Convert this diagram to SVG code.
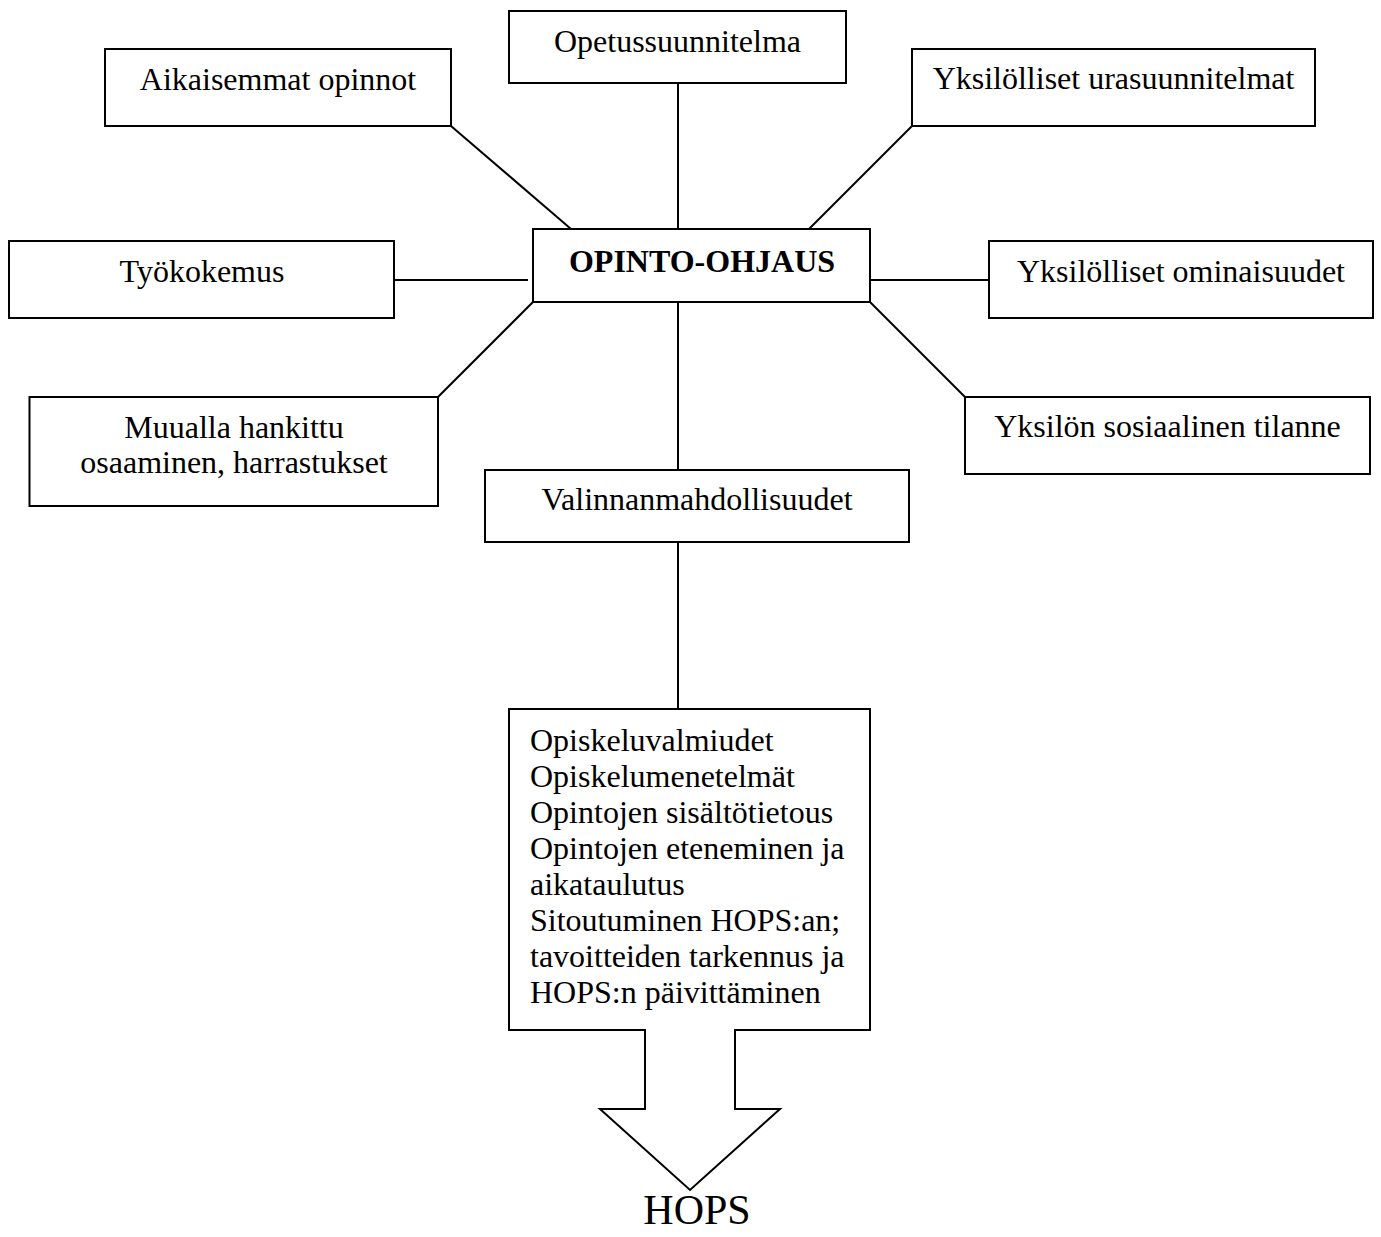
<svg xmlns="http://www.w3.org/2000/svg" width="1381" height="1237" viewBox="0 0 1381 1237">
<style>
.box{fill:#fff;stroke:#000;stroke-width:2}
.ln{stroke:#000;stroke-width:2;fill:none}
text{font-family:"Liberation Serif","Times New Roman",serif;font-size:32px;fill:#000}
.c{text-anchor:middle}
.b{font-weight:bold}
</style>
<rect width="1381" height="1237" fill="#fff"/>
<g id="connectors">
<line class="ln" x1="678" y1="83" x2="678" y2="229"/>
<line class="ln" x1="678" y1="302" x2="678" y2="470"/>
<line class="ln" x1="678" y1="542" x2="678" y2="709"/>
<line class="ln" x1="451" y1="126" x2="571" y2="229"/>
<line class="ln" x1="912" y1="126" x2="809" y2="229"/>
<line class="ln" x1="394" y1="280" x2="528" y2="280"/>
<line class="ln" x1="870" y1="280" x2="989" y2="280"/>
<line class="ln" x1="533" y1="302" x2="438" y2="397"/>
<line class="ln" x1="870" y1="302" x2="965" y2="397"/>
</g>
<g id="opetussuunnitelma">
<rect class="box" x="509" y="11" width="337" height="72"/>
<text class="c" x="677.5" y="52">Opetussuunnitelma</text>
</g>
<g id="aikaisemmat">
<rect class="box" x="105" y="49" width="346" height="77"/>
<text class="c" x="278" y="90">Aikaisemmat opinnot</text>
</g>
<g id="urasuunnitelmat">
<rect class="box" x="912" y="49" width="403" height="77"/>
<text class="c" x="1113.5" y="89">Yksilölliset urasuunnitelmat</text>
</g>
<g id="opinto-ohjaus">
<rect class="box" x="533" y="229" width="337" height="73"/>
<text class="c b" x="702" y="272">OPINTO-OHJAUS</text>
</g>
<g id="tyokokemus">
<rect class="box" x="9" y="241" width="385" height="77"/>
<text class="c" x="202" y="282">Työkokemus</text>
</g>
<g id="ominaisuudet">
<rect class="box" x="989" y="241" width="384" height="77"/>
<text class="c" x="1181" y="282">Yksilölliset ominaisuudet</text>
</g>
<g id="muualla">
<rect class="box" x="29.5" y="397" width="408.5" height="109"/>
<text class="c" x="234" y="438">Muualla hankittu</text>
<text class="c" x="234" y="473">osaaminen, harrastukset</text>
</g>
<g id="sosiaalinen">
<rect class="box" x="965" y="397" width="405" height="77"/>
<text class="c" x="1167.5" y="437">Yksilön sosiaalinen tilanne</text>
</g>
<g id="valinnanmahdollisuudet">
<rect class="box" x="485" y="470" width="424" height="72"/>
<text class="c" x="697" y="510">Valinnanmahdollisuudet</text>
</g>
<g id="sisalto">
<path class="box" d="M509 709 H870 V1030 H735 V1109 H780 L690 1190 L600 1109 H645 V1030 H509 Z"/>
<text x="530" y="751">Opiskeluvalmiudet</text>
<text x="530" y="787">Opiskelumenetelmät</text>
<text x="530" y="823">Opintojen sisältötietous</text>
<text x="530" y="859">Opintojen eteneminen ja</text>
<text x="530" y="895">aikataulutus</text>
<text x="530" y="931">Sitoutuminen HOPS:an;</text>
<text x="530" y="967">tavoitteiden tarkennus ja</text>
<text x="530" y="1003">HOPS:n päivittäminen</text>
</g>
<g id="hops">
<text class="c" x="697" y="1224" style="font-size:42px">HOPS</text>
</g>
</svg>
